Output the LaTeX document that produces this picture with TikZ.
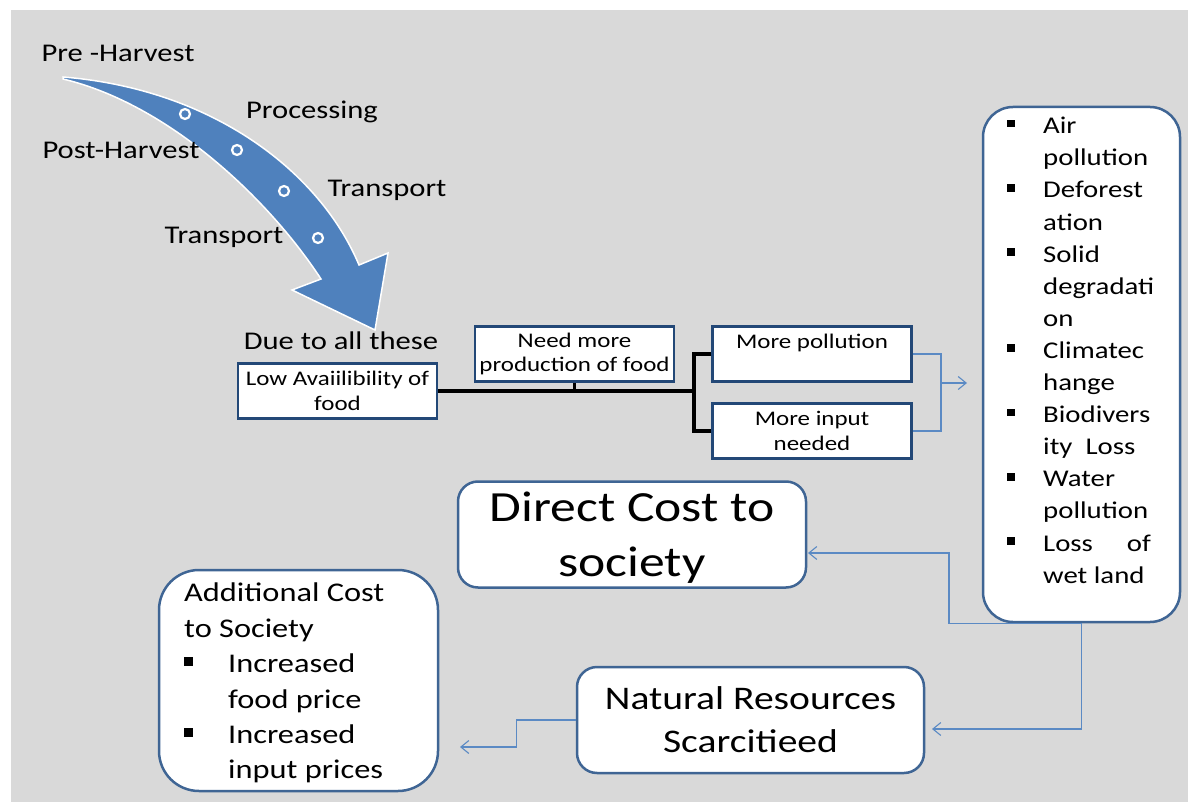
\documentclass[tikz,border=0pt]{standalone}
\usepackage{fontspec}
\setmainfont[FakeStretch=1.2]{Carlito}
\usetikzlibrary{arrows.meta}
\definecolor{bggray}{HTML}{D9D9D9}
\definecolor{navy}{HTML}{234877}
\definecolor{steel}{HTML}{3F6594}
\definecolor{linkblue}{HTML}{5B8AC4}
\definecolor{arrowblue}{HTML}{4F81BD}
\newcommand{\sqb}[1]{\makebox[#1][l]{\rule[0.26em]{0.32em}{0.32em}}}
\newcommand{\ind}[1]{\hspace*{#1}}

\begin{document}
\begin{tikzpicture}[x=1pt,y=-1pt,
  lbl/.style={inner sep=0pt,font=\fontsize{25.5}{30}\selectfont},
  sbox/.style={draw=navy,line width=2.5pt,fill=white,minimum width=199pt,minimum height=55pt,
    inner sep=0pt,align=center,font=\fontsize{20.8}{24.5}\selectfont},
  rbox/.style={draw=steel,line width=2.5pt,fill=white},
  blk/.style={line width=3.2pt},
  link/.style={draw=linkblue,line width=1.1pt},
  tip/.style={link,-{Straight Barb[length=8pt,width=13pt]}}]
\useasboundingbox (0,0) rectangle (1188,802);
\fill[bggray] (11,10) rectangle (1188,802);

% curved arrow
\fill[arrowblue,draw=white,line width=1.5pt] (63,77) .. controls (213,89) and (320,172) .. (359,265)
  -- (388,253) -- (375,330) -- (292,290) -- (321,279) .. controls (268,198) and (168,104) .. (63,79) -- cycle;
\draw[white,line width=2.2pt,fill=arrowblue] (185,114) circle (5pt);
\draw[white,line width=2.2pt,fill=arrowblue] (237,150) circle (5pt);
\draw[white,line width=2.2pt,fill=arrowblue] (284,191) circle (5pt);
\draw[white,line width=2.2pt,fill=arrowblue] (318,238) circle (5pt);

\node[lbl] (Pr) at (118,53) {Pre -Harvest};
\node[lbl] (Pc) at (312,112) {Processing};
\node[lbl] (Po) at (121,150) {Post-Harvest};
\node[lbl] (T1) at (387,190) {Transport};
\node[lbl] (T2) at (224,237) {Transport};
\node[lbl] (Du) at (341,341) {Due to all these};

% small boxes
\node[sbox] (L) at (337.5,391) {Low Avaiilibility of\\food};
\node[sbox] (N) at (574.5,354) {Need more\\production of food};
\node[sbox] (MP) at (812,354) {More pollution\\\mbox{}};
\node[sbox] (MI) at (812,431) {More input\\needed};

\coordinate (F) at (694,391);
\draw[blk] (L.east) -- (F);
\draw[blk] (N.south) -- (N.south |- F);
\draw[blk] (MP.west) -| (F);
\draw[blk] (MI.west) -| (F);

\coordinate (J) at (941,383);
\coordinate (JA) at (967,383);
\draw[link] (MP.east) -| (J);
\draw[link] (MI.east) -| (J);
\draw[tip] (J) -- (JA);

% effects
\node[rbox,rounded corners=30pt,minimum width=197pt,minimum height=515pt] (A) at (1081.5,364.5) {};
\node[anchor=north west,align=left,inner sep=0pt,font=\fontsize{24}{32.1}\selectfont] (Al) at (1007,117)
  {\sqb{36pt}Air\\\ind{36pt}pollution\\\sqb{36pt}Deforest\\\ind{36pt}ation\\
   \sqb{36pt}Solid\\\ind{36pt}degradati\\\ind{36pt}on\\\sqb{36pt}Climatec\\\ind{36pt}hange\\
   \sqb{36pt}Biodivers\\\ind{36pt}ity\ \ Loss\\\sqb{36pt}Water\\\ind{36pt}pollution\\
   \sqb{36pt}Loss\hspace*{34pt}of\\\ind{36pt}wet land};

\node[rbox,rounded corners=20pt,minimum width=348pt,minimum height=106pt] (D) at (632,534.5) {};
\node[align=center,inner sep=0pt,font=\fontsize{43}{55}\selectfont] (Dt) at (632,538) {Direct Cost to\\society};
\node[rbox,rounded corners=20pt,minimum width=347pt,minimum height=106pt,align=center,
  inner sep=0pt,font=\fontsize{33}{43}\selectfont] (NR) at (750.5,720) {Natural Resources\\Scarcitieed};
\node[rbox,rounded corners=40pt,minimum width=279pt,minimum height=221pt] (AC) at (298.5,680.5) {};
\node[anchor=north west,align=left,inner sep=0pt,font=\fontsize{27}{35.4}\selectfont] (ACl) at (184,583)
  {Additional Cost\\to Society\\\sqb{44pt}Increased\\\ind{44pt}food price\\
   \sqb{44pt}Increased\\\ind{44pt}input prices};

\coordinate (DA) at (808,553);
\coordinate (NA) at (932,729);
\coordinate (CA) at (460,747);
\draw[tip] (A.south) -- ++(-132.5,0) |- (DA);
\draw[tip] (A.south) |- (NA);
\draw[tip] (NR.west) -- ++(-59,0) |- (CA);
\end{tikzpicture}
\end{document}
